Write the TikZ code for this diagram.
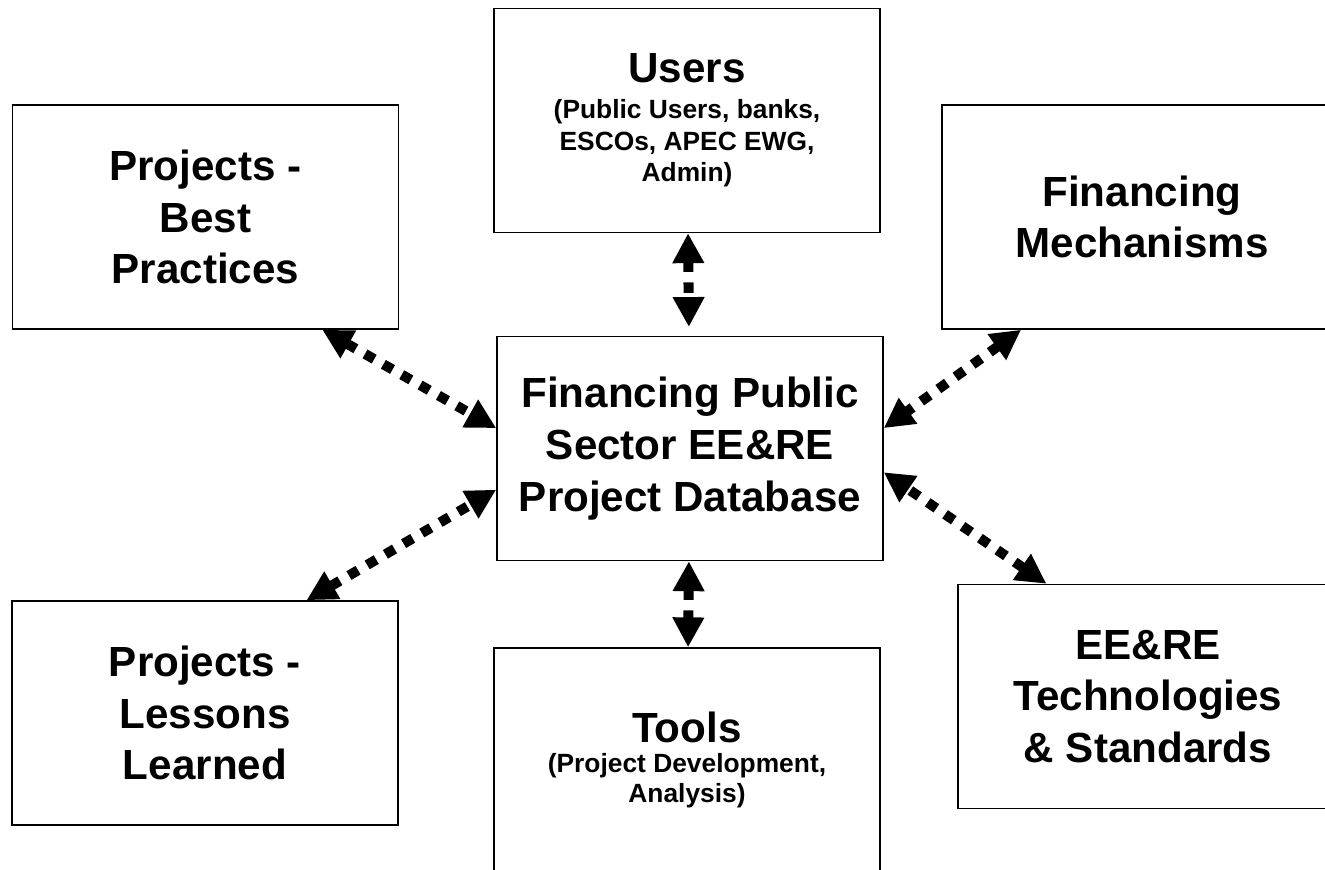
\documentclass[tikz,border=0pt]{standalone}
\usepackage{fontspec}
\setmainfont{Liberation Sans}
\usetikzlibrary{arrows.meta}

\newcommand{\subtxt}{\fontsize{15}{18}\selectfont}

\begin{document}
\begin{tikzpicture}[x=0.02cm,y=-0.02cm,
    box/.style={draw,line width=0.9pt,minimum width=7.72cm,minimum height=4.48cm,
      inner sep=0pt,align=center,font=\bfseries\fontsize{24}{29.5}\selectfont},
    link/.style={line width=5.7pt,dash pattern=on 6pt off 6pt,
      {Triangle[length=17pt,width=17pt]}-{Triangle[length=17pt,width=17pt]}}]
  \useasboundingbox (0,0) rectangle (1325,869);
  \clip (0,0) rectangle (1325,869);
  % boxes
  \node[box] (users) at (687,120.5) {Users\\[-9pt]{\subtxt (Public Users, banks,}\\[-11.5pt]{\subtxt ESCOs, APEC EWG,}\\[-11.5pt]{\subtxt Admin)}};
  \node[box] (pbp) at (205.5,217) {Projects -\\Best\\Practices};
  \node[box,minimum width=8cm] (finmech) at (1142,217) {Financing\\Mechanisms};
  \node[box] (db) at (690,448.5) {Financing Public\\Sector EE\&RE\\Project Database};
  \node[box] (pll) at (205,713) {Projects -\\Lessons\\Learned};
  \node[box] (tools) at (687,760) {Tools\\[-12pt]{\subtxt (Project Development,}\\[-12.5pt]{\subtxt Analysis)}};
  \node[box,minimum width=7.6cm] (eere) at (1148,696.5) {EE\&RE\\Technologies\\\& Standards};
  % dotted links
  \draw[link,shorten >=5pt] (users) -- (db);
  \draw[link] (db) -- (tools);
  \draw[link] (pbp.-44) -- (db.174);
  \draw[link] (pll.48) -- (db.192);
  \draw[link] (finmech.223) -- (db.6);
  \draw[link] (eere.132) -- (db.-7);
\end{tikzpicture}
\end{document}
